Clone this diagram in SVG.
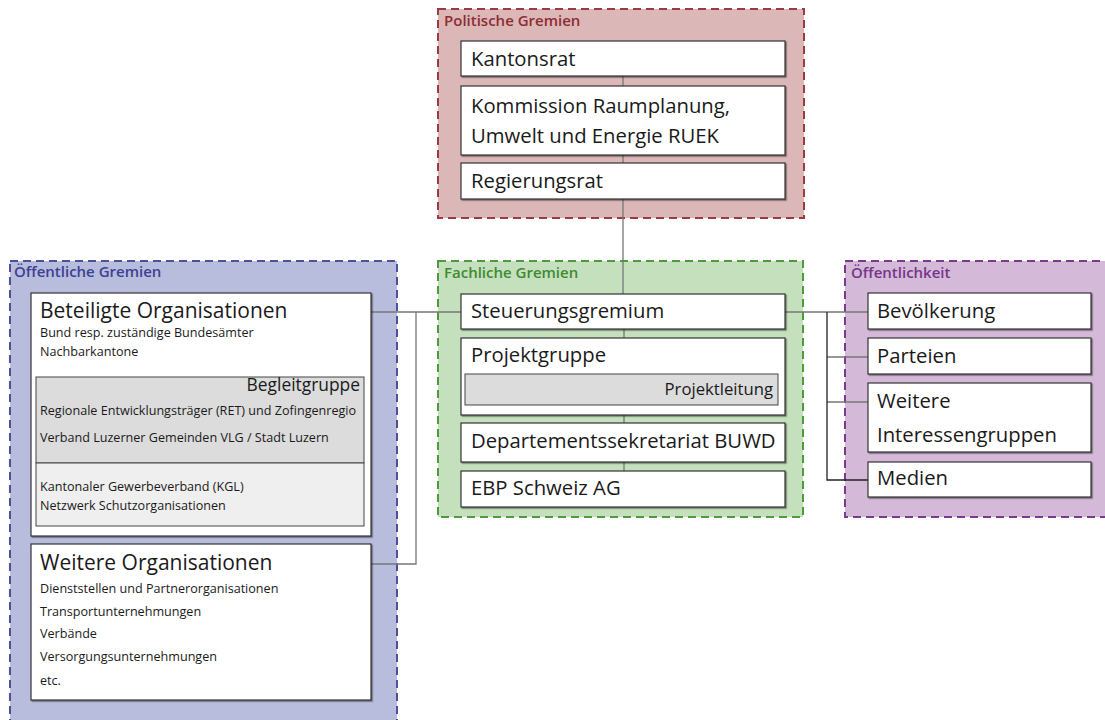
<svg xmlns="http://www.w3.org/2000/svg" width="1105" height="720" viewBox="0 0 1105 720">
<defs>
<filter id="sh" x="-5%" y="-5%" width="110%" height="120%">
<feDropShadow dx="1.2" dy="1.2" stdDeviation="0.6" flood-color="#000" flood-opacity="0.45"/>
</filter>
</defs>
<style>
text{font-family:"Open Sans","Noto Sans","DejaVu Sans",sans-serif;fill:#1a1a1a}
.grp{stroke-width:2;stroke-dasharray:8 5}
.node{fill:#fff;stroke:#333;stroke-width:1.2;filter:url(#sh)}
.inner{stroke:#444;stroke-width:1}
.lbl{font-size:20.3px}
.big{font-size:21px}
.sm{font-size:12.6px}
.ttl{font-size:15px;font-weight:600}
.con{fill:none;stroke:#777;stroke-width:1.3}
.conk{fill:none;stroke:#222;stroke-width:1.3}
</style>

<g id="politische-gremien">
<rect class="grp" x="438" y="9" width="366" height="209" fill="#dbb7b7" stroke="#9b3a40"/>
<text class="ttl" x="444" y="26" style="fill:#8e2c33">Politische Gremien</text>
</g>
<g id="fachliche-gremien">
<rect class="grp" x="438" y="261" width="365" height="256" fill="#c5e0bd" stroke="#4f9a3f"/>
<text class="ttl" x="444" y="278" style="fill:#3f8a33">Fachliche Gremien</text>
</g>
<g id="oeffentliche-gremien">
<rect class="grp" x="10" y="261" width="387" height="470" fill="#b8bcdd" stroke="#4c519c"/>
<text class="ttl" x="14" y="277" style="fill:#3b4193">Öffentliche Gremien</text>
</g>
<g id="oeffentlichkeit">
<rect class="grp" x="845" y="261" width="270" height="256" fill="#d5b9d9" stroke="#7b3a8c"/>
<text class="ttl" x="851" y="278" style="fill:#74358a">Öffentlichkeit</text>
</g>

<g id="connectors">
<path class="con" d="M623 76V86M623 155V163M623 199V294"/>
<path class="con" d="M624 329V338M624 415V423M624 462V471"/>
<path class="con" d="M371 312H461M416 312V564H371"/>
<path class="con" d="M785 312H868M827 357H868M827 402H868"/>
<path class="conk" d="M827 312V480H868"/>
</g>

<g id="kantonsrat">
<rect class="node" x="461" y="41" width="324" height="35"/>
<text class="lbl" x="471" y="66">Kantonsrat</text>
</g>
<g id="kommission">
<rect class="node" x="461" y="86" width="324" height="69"/>
<text class="lbl" x="471" y="113">Kommission Raumplanung,</text>
<text class="lbl" x="471" y="143">Umwelt und Energie RUEK</text>
</g>
<g id="regierungsrat">
<rect class="node" x="461" y="163" width="324" height="36"/>
<text class="lbl" x="471" y="188">Regierungsrat</text>
</g>

<g id="steuerungsgremium">
<rect class="node" x="461" y="294" width="324" height="35"/>
<text class="lbl" x="471" y="318">Steuerungsgremium</text>
</g>
<g id="projektgruppe">
<rect class="node" x="461" y="338" width="324" height="77"/>
<text class="lbl" x="471" y="362">Projektgruppe</text>
<rect class="inner" x="465" y="374" width="313" height="31" fill="#dcdcdc"/>
<text x="773" y="395" text-anchor="end" style="font-size:16.7px">Projektleitung</text>
</g>
<g id="departementssekretariat">
<rect class="node" x="461" y="423" width="324" height="39"/>
<text class="lbl" x="471" y="448">Departementssekretariat BUWD</text>
</g>
<g id="ebp">
<rect class="node" x="461" y="471" width="324" height="36"/>
<text class="lbl" x="471" y="495">EBP Schweiz AG</text>
</g>

<g id="beteiligte-organisationen">
<rect class="node" x="31" y="293" width="340" height="243"/>
<text class="big" x="40" y="318">Beteiligte Organisationen</text>
<text class="sm" x="40" y="337">Bund resp. zuständige Bundesämter</text>
<text class="sm" x="40" y="356">Nachbarkantone</text>
<rect class="inner" x="36" y="377" width="328" height="86" fill="#dcdcdc"/>
<rect class="inner" x="36" y="463" width="328" height="63" fill="#efefef"/>
<text x="360" y="391" text-anchor="end" style="font-size:17.4px">Begleitgruppe</text>
<text class="sm" x="40" y="415">Regionale Entwicklungsträger (RET) und Zofingenregio</text>
<text class="sm" x="40" y="442">Verband Luzerner Gemeinden VLG / Stadt Luzern</text>
<text class="sm" x="40" y="491">Kantonaler Gewerbeverband (KGL)</text>
<text class="sm" x="40" y="510">Netzwerk Schutzorganisationen</text>
</g>
<g id="weitere-organisationen">
<rect class="node" x="31" y="544" width="340" height="156"/>
<text class="big" x="40" y="570">Weitere Organisationen</text>
<text class="sm" x="40" y="593">Dienststellen und Partnerorganisationen</text>
<text class="sm" x="40" y="616">Transportunternehmungen</text>
<text class="sm" x="40" y="638">Verbände</text>
<text class="sm" x="40" y="661">Versorgungsunternehmungen</text>
<text class="sm" x="40" y="685">etc.</text>
</g>

<g id="bevoelkerung">
<rect class="node" x="868" y="293" width="223" height="36"/>
<text class="lbl" x="877" y="318">Bevölkerung</text>
</g>
<g id="parteien">
<rect class="node" x="868" y="338" width="223" height="36"/>
<text class="lbl" x="877" y="363">Parteien</text>
</g>
<g id="weitere-interessengruppen">
<rect class="node" x="868" y="383" width="223" height="69"/>
<text class="lbl" x="877" y="408">Weitere</text>
<text class="lbl" x="877" y="442">Interessengruppen</text>
</g>
<g id="medien">
<rect class="node" x="868" y="462" width="223" height="35"/>
<text class="lbl" x="877" y="485">Medien</text>
</g>
</svg>
